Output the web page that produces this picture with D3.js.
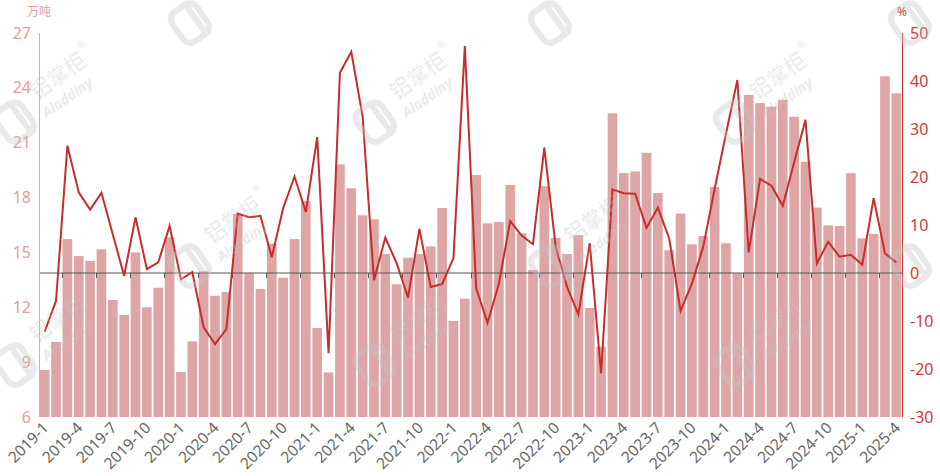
<!DOCTYPE html>
<html><head><meta charset="utf-8">
<script src="https://cdn.jsdelivr.net/npm/d3@7"></script>
<style>
body{margin:0;background:#fff}
svg{display:block}
text{font-family:"Noto Sans","Noto Sans CJK SC",sans-serif}
</style>
</head><body>
<svg id="c" width="940" height="476"></svg>
<script>
const months = [
 "2019-1","2019-2","2019-3","2019-4","2019-5","2019-6","2019-7","2019-8","2019-9","2019-10","2019-11","2019-12",
 "2020-1","2020-2","2020-3","2020-4","2020-5","2020-6","2020-7","2020-8","2020-9","2020-10","2020-11","2020-12",
 "2021-1","2021-2","2021-3","2021-4","2021-5","2021-6","2021-7","2021-8","2021-9","2021-10","2021-11","2021-12",
 "2022-1","2022-2","2022-3","2022-4","2022-5","2022-6","2022-7","2022-8","2022-9","2022-10","2022-11","2022-12",
 "2023-1","2023-2","2023-3","2023-4","2023-5","2023-6","2023-7","2023-8","2023-9","2023-10","2023-11","2023-12",
 "2024-1","2024-2","2024-3","2024-4","2024-5","2024-6","2024-7","2024-8","2024-9","2024-10","2024-11","2024-12",
 "2025-1","2025-2","2025-3","2025-4"
];
// 产量 (万吨), left axis
const output = [
 8.57,10.10,15.73,14.80,14.53,15.17,12.40,11.58,15.00,12.00,13.07,15.83,
 8.46,10.14,13.97,12.63,12.84,17.10,13.86,13.00,15.48,13.62,15.73,17.81,
 10.87,8.44,19.82,18.51,17.03,16.81,14.91,13.26,14.71,14.91,15.33,17.43,
 11.25,12.47,19.23,16.59,16.66,18.69,16.05,14.04,18.62,15.79,14.91,15.94,
 11.96,9.84,22.61,19.34,19.43,20.45,18.25,15.12,17.12,15.44,15.90,18.58,
 15.50,13.86,23.61,23.17,22.97,23.35,22.42,19.96,17.45,16.48,16.45,19.33,
 15.77,16.02,24.63,23.70
];
// 同比 (%), right axis
const growth = [
 -12.2,-5.8,26.5,16.8,13.2,16.7,8.0,-0.6,11.6,0.8,2.2,9.8,
 -1.3,0.2,-11.3,-14.8,-11.7,12.4,11.6,11.9,3.3,13.5,20.1,12.7,
 28.3,-16.7,41.7,46.1,32.6,-1.5,7.4,2.0,-5.1,9.2,-2.9,-2.3,
 3.1,47.3,-3.2,-10.4,-2.2,10.8,7.8,6.0,26.1,5.5,-2.9,-8.6,
 6.2,-20.9,17.4,16.6,16.5,9.4,13.6,7.2,-7.9,-2.2,5.5,17.5,
 29.0,40.2,4.3,19.6,18.2,14.0,23.0,31.9,2.0,6.5,3.4,3.8,
 1.7,15.6,4.1,2.2
];
const leftTicks = [6,9,12,15,18,21,24,27];
const rightTicks = [-30,-20,-10,0,10,20,30,40,50];
const leftUnit = "万吨";
const rightUnit = "%";
const wmName = "铝掌柜";
const wmBrand = "Aladdiny";

const m = {l:39, r:902, t:33, b:417};
const svg = d3.select("#c");

const pad = 0.15;
const x = d3.scaleBand().domain(months).range([m.l, m.r]).paddingInner(pad).paddingOuter(pad/2);
const yL = d3.scaleLinear().domain([6,27]).range([m.b, m.t]);
const yR = d3.scaleLinear().domain([-30,50]).range([m.b, m.t]);
const step = x.step();
const cx = d => x(d) + x.bandwidth()/2;

// bars
svg.append("g").selectAll("rect").data(months).join("rect")
  .attr("x", d => x(d)).attr("width", x.bandwidth())
  .attr("y", (d,i) => yL(output[i])).attr("height", (d,i) => yL(6) - yL(output[i]))
  .attr("fill", "#dea5a5");

// zero line with ticks
const zy = yR(0);
svg.append("line").attr("x1", m.l).attr("x2", m.r).attr("y1", zy).attr("y2", zy)
  .attr("stroke", "#555").attr("stroke-width", 1);
svg.append("g").selectAll("line").data(months.filter((d,i) => i % 3 === 2)).join("line")
  .attr("x1", d => Math.round(x(d) - step*pad/2) + 0.5).attr("x2", d => Math.round(x(d) - step*pad/2) + 0.5)
  .attr("y1", zy).attr("y2", zy + 5).attr("stroke", "#555");

// line
const line = d3.line().x((d,i) => cx(months[i])).y(d => yR(d));
svg.append("path").datum(growth).attr("d", line)
  .attr("fill", "none").attr("stroke", "#c62d2d").attr("stroke-width", 2);

// left axis
svg.append("line").attr("x1", m.l + 0.5).attr("x2", m.l + 0.5).attr("y1", m.t).attr("y2", m.b)
  .attr("stroke", "#e2a4a4");
svg.append("g").selectAll("text").data(leftTicks).join("text")
  .attr("x", 31).attr("y", d => yL(d)).attr("dy", "0.35em")
  .attr("text-anchor", "end").attr("font-size", 16).attr("fill", "#e49c9c").text(d => d);
svg.append("text").attr("x", 39).attr("y", 16).attr("text-anchor", "middle")
  .attr("font-size", 12).attr("fill", "#e49c9c").text(leftUnit);

// right axis
svg.append("line").attr("x1", m.r + 0.5).attr("x2", m.r + 0.5).attr("y1", m.t).attr("y2", m.b)
  .attr("stroke", "#c8302e");
svg.append("g").selectAll("text").data(rightTicks).join("text")
  .attr("x", 910).attr("y", d => yR(d)).attr("dy", "0.35em")
  .attr("text-anchor", "start").attr("font-size", 16).attr("fill", "#d03a3a").text(d => d);
svg.append("text").attr("x", 902).attr("y", 16).attr("text-anchor", "middle")
  .attr("font-size", 12).attr("fill", "#d03a3a").text(rightUnit);

// x labels
svg.append("g").selectAll("text").data(months.filter((d,i) => i % 3 === 0)).join("text")
  .attr("transform", d => `translate(${cx(d)+1},425) rotate(-45)`)
  .attr("text-anchor", "end").attr("dy", "0.35em")
  .attr("font-size", 15.5).attr("fill", "#666").text(d => d);

// watermarks (text only where it stays inside the frame, as in the reference)
const wmPos = [[15,122,true],[375,122,true],[735,122,true],[15,365,true],[375,365,true],[735,365,true],
               [190,23,false],[550,23,false],[910,23,false],[190,266,true],[550,266,true],[910,266,false],[190,509,false],[550,509,false]];
const wm = svg.append("g").attr("opacity", 0.38).attr("pointer-events", "none");
wmPos.forEach(([px,py,withText]) => {
  const g = wm.append("g").attr("transform", `translate(${px},${py}) rotate(-35)`);
  g.append("rect").attr("x", -15).attr("y", -18).attr("width", 30).attr("height", 36).attr("rx", 9)
    .attr("fill", "none").attr("stroke", "#c4c4c4").attr("stroke-width", 6);
  g.append("rect").attr("x", 4).attr("y", -20).attr("width", 6).attr("height", 38).attr("fill", "#c4c4c4");
  if (withText) {
    g.append("text").attr("x", 30).attr("y", -6).attr("font-size", 21).attr("fill", "#c4c4c4").text(wmName);
    g.append("text").attr("x", 95).attr("y", -22).attr("font-size", 9).attr("fill", "#c4c4c4").text("®");
    g.append("text").attr("x", 28).attr("y", 15).attr("font-size", 14).attr("font-weight", "bold")
      .attr("font-style", "italic").attr("fill", "#c4c4c4").text(wmBrand);
  }
});
</script>
</body></html>
